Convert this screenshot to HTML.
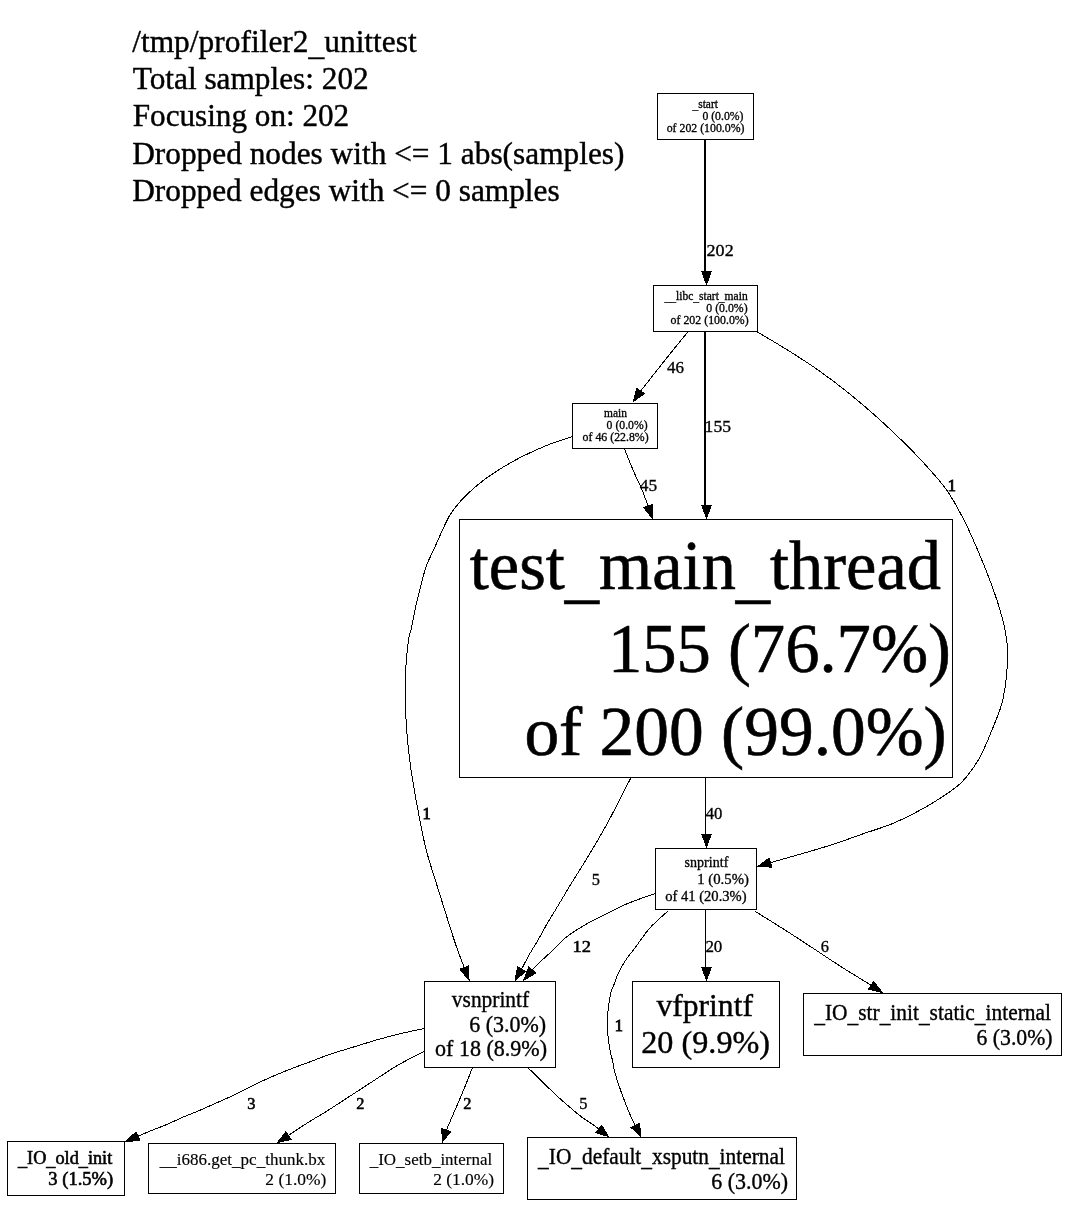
<!DOCTYPE html>
<html lang="en"><head><meta charset="utf-8"><title>/tmp/profiler2_unittest</title>
<style>html,body{margin:0;padding:0;background:#fff;}body{width:1068px;height:1216px;overflow:hidden;}svg{display:block;will-change:transform;}text{font-family:"Liberation Serif",serif;fill:#000;}</style></head><body>
<svg width="1068" height="1216" viewBox="0 0 1068 1216">
<rect x="0" y="0" width="1068" height="1216" fill="#fff"/>
<g fill="none" stroke="#000" stroke-width="1" shape-rendering="crispEdges">
<rect x="657.5" y="93.5" width="96.0" height="46.0"/>
<rect x="653.5" y="285.5" width="104.0" height="46.0"/>
<rect x="572.5" y="403.5" width="85.0" height="45.0"/>
<rect x="459.5" y="519.5" width="493.0" height="258.0"/>
<rect x="655.5" y="848.5" width="101.0" height="61.0"/>
<rect x="424.5" y="981.5" width="131.0" height="86.0"/>
<rect x="632.5" y="981.5" width="147.0" height="86.0"/>
<rect x="803.5" y="993.5" width="258.0" height="62.0"/>
<rect x="7.5" y="1141.5" width="117.0" height="54.0"/>
<rect x="148.5" y="1143.5" width="187.0" height="50.0"/>
<rect x="359.5" y="1143.5" width="144.0" height="50.0"/>
<rect x="527.5" y="1137.5" width="269.0" height="62.0"/>
</g>
<g fill="none" stroke="#000" shape-rendering="crispEdges">
<path d="M705.25,139.50 L705.25,272.00" stroke-width="2"/>
<polygon points="701.00,271.00 706.50,286.00 712.00,271.00" fill="#000" stroke="none"/>
<path d="M688.00,331.70 C684.58,335.92 675.45,347.03 667.50,357.00 C659.55,366.97 644.83,385.75 640.30,391.50" stroke-width="1"/>
<polygon points="636.45,387.63 632.75,402.46 645.29,393.72" fill="#000" stroke="none"/>
<path d="M705.25,331.50 L705.25,506.00" stroke-width="2"/>
<polygon points="701.00,505.00 706.50,519.80 712.00,505.00" fill="#000" stroke="none"/>
<path d="M756.90,331.70 C761.78,334.62 776.20,342.95 786.20,349.20 C796.20,355.45 806.65,362.02 816.90,369.20 C827.15,376.38 837.43,384.08 847.70,392.30 C857.97,400.52 868.25,409.27 878.50,418.50 C888.75,427.73 900.48,438.98 909.20,447.70 C917.92,456.42 924.13,463.12 930.80,470.80 C937.47,478.48 943.05,484.32 949.20,493.80 C955.35,503.28 961.53,514.87 967.70,527.70 C973.87,540.53 981.33,558.75 986.20,570.80 C991.07,582.85 993.83,590.47 996.90,600.00 C999.97,609.53 1002.80,618.77 1004.60,628.00 C1006.40,637.23 1007.95,643.65 1007.70,655.40 C1007.45,667.15 1005.67,686.20 1003.10,698.50 C1000.53,710.80 996.15,719.47 992.30,729.20 C988.45,738.93 984.10,749.20 980.00,756.90 C975.90,764.60 971.80,770.27 967.70,775.40 C963.60,780.53 962.58,782.32 955.40,787.70 C948.22,793.08 934.87,801.80 924.60,807.70 C914.33,813.60 904.05,818.75 893.80,823.10 C883.55,827.45 873.35,830.22 863.10,833.80 C852.85,837.38 842.57,841.27 832.30,844.60 C822.03,847.93 811.88,850.77 801.50,853.80 C791.12,856.83 775.25,861.30 770.00,862.80" stroke-width="1"/>
<polygon points="769.41,857.37 756.23,866.93 772.50,867.66" fill="#000" stroke="none"/>
<path d="M624.40,448.80 C625.95,452.60 630.75,464.72 633.70,471.60 C636.65,478.48 639.68,484.28 642.10,490.10 C644.52,495.92 647.18,503.77 648.20,506.50" stroke-width="1"/>
<polygon points="642.80,507.34 652.87,519.75 652.93,503.77" fill="#000" stroke="none"/>
<path d="M571.90,436.70 C568.53,437.83 557.88,441.18 551.70,443.50 C545.52,445.82 540.42,448.07 534.80,450.60 C529.18,453.13 523.62,455.73 518.00,458.70 C512.38,461.67 506.72,464.90 501.10,468.40 C495.48,471.90 489.92,475.43 484.30,479.70 C478.68,483.97 471.90,489.78 467.40,494.00 C462.90,498.22 460.38,501.20 457.30,505.00 C454.22,508.80 451.70,511.88 448.90,516.80 C446.10,521.72 443.17,528.73 440.50,534.50 C437.83,540.27 435.30,546.07 432.90,551.40 C430.50,556.73 428.22,560.33 426.10,566.50 C423.98,572.67 422.02,581.37 420.20,588.40 C418.38,595.43 416.65,602.10 415.20,608.70 C413.75,615.30 412.53,623.23 411.50,628.00 C410.47,632.77 409.85,632.02 409.00,637.30 C408.15,642.58 407.03,651.07 406.40,659.70 C405.77,668.33 405.35,680.75 405.20,689.10 C405.05,697.45 405.15,701.73 405.50,709.80 C405.85,717.87 406.57,728.87 407.30,737.50 C408.03,746.13 408.90,753.83 409.90,761.60 C410.90,769.37 412.02,776.32 413.30,784.10 C414.58,791.88 415.44,797.32 417.60,808.30 C419.76,819.28 422.52,835.55 426.25,850.00 C429.98,864.45 435.21,879.58 440.00,895.00 C444.79,910.42 450.92,930.33 455.00,942.50 C459.08,954.67 462.92,963.75 464.50,968.00" stroke-width="1"/>
<polygon points="459.12,968.92 469.58,981.75 469.19,965.20" fill="#000" stroke="none"/>
<path d="M705.75,777.50 L705.75,834.50" stroke-width="1"/>
<polygon points="701.00,833.50 706.50,848.80 712.00,833.50" fill="#000" stroke="none"/>
<path d="M630.75,778.00 C628.62,782.17 622.29,794.75 618.00,803.00 C613.71,811.25 610.08,818.42 605.00,827.50 C599.92,836.58 592.77,848.75 587.50,857.50 C582.23,866.25 577.25,873.75 573.40,880.00 C569.55,886.25 567.40,890.00 564.40,895.00 C561.40,900.00 558.40,905.02 555.40,910.00 C552.40,914.98 549.13,920.17 546.40,924.90 C543.67,929.63 541.73,933.65 539.00,938.40 C536.27,943.15 532.93,948.22 530.00,953.40 C527.07,958.58 522.83,966.82 521.40,969.50" stroke-width="1"/>
<polygon points="517.24,965.96 514.40,981.69 526.56,971.31" fill="#000" stroke="none"/>
<path d="M655.10,893.80 C652.97,894.50 646.93,896.35 642.30,898.00 C637.67,899.65 632.28,901.58 627.30,903.70 C622.32,905.82 617.38,908.28 612.40,910.70 C607.42,913.12 602.40,915.58 597.40,918.20 C592.40,920.82 587.40,923.40 582.40,926.40 C577.40,929.40 571.15,933.45 567.40,936.20 C563.65,938.95 562.90,940.03 559.90,942.90 C556.90,945.77 552.65,950.28 549.40,953.40 C546.15,956.52 543.30,958.78 540.40,961.60 C537.50,964.42 533.40,968.85 532.00,970.30" stroke-width="1"/>
<polygon points="528.49,966.12 522.69,981.62 536.78,972.94" fill="#000" stroke="none"/>
<path d="M705.75,909.50 L705.75,968.00" stroke-width="1"/>
<polygon points="701.00,967.00 706.50,981.80 712.00,967.00" fill="#000" stroke="none"/>
<path d="M755.00,911.25 C760.00,914.38 775.83,924.17 785.00,930.00 C794.17,935.83 800.83,940.25 810.00,946.25 C819.17,952.25 829.75,959.46 840.00,966.00 C850.25,972.54 866.25,982.25 871.50,985.50" stroke-width="1"/>
<polygon points="867.73,989.45 883.67,993.44 873.60,980.46" fill="#000" stroke="none"/>
<path d="M667.80,911.20 C666.25,912.58 661.72,916.45 658.50,919.50 C655.28,922.55 652.25,925.00 648.50,929.50 C644.75,934.00 639.83,941.33 636.00,946.50 C632.17,951.67 628.43,956.10 625.50,960.50 C622.57,964.90 620.33,968.83 618.40,972.90 C616.47,976.97 615.08,981.88 613.90,984.90 C612.72,987.92 612.17,987.67 611.30,991.00 C610.43,994.33 609.37,1000.02 608.70,1004.90 C608.03,1009.78 607.47,1015.63 607.30,1020.30 C607.13,1024.97 607.23,1027.78 607.70,1032.90 C608.17,1038.02 609.32,1046.48 610.10,1051.00 C610.88,1055.52 611.68,1056.75 612.40,1060.00 C613.12,1063.25 613.42,1066.57 614.40,1070.50 C615.38,1074.43 616.55,1078.37 618.30,1083.60 C620.05,1088.83 622.72,1096.22 624.90,1101.90 C627.08,1107.58 629.62,1113.68 631.40,1117.70 C633.18,1121.72 634.90,1124.62 635.60,1126.00" stroke-width="1"/>
<polygon points="630.36,1127.55 641.56,1137.71 639.93,1122.67" fill="#000" stroke="none"/>
<path d="M424.10,1028.50 C420.08,1029.38 407.97,1031.88 400.00,1033.80 C392.03,1035.72 382.78,1038.18 376.30,1040.00 C369.82,1041.82 366.43,1043.07 361.10,1044.70 C355.77,1046.33 349.92,1048.05 344.30,1049.80 C338.68,1051.55 333.02,1053.23 327.40,1055.20 C321.78,1057.17 316.22,1059.50 310.60,1061.60 C304.98,1063.70 299.32,1065.63 293.70,1067.80 C288.08,1069.97 282.52,1072.22 276.90,1074.60 C271.28,1076.98 267.02,1078.75 260.00,1082.10 C252.98,1085.45 241.80,1091.35 234.80,1094.70 C227.80,1098.05 223.62,1099.68 218.00,1102.20 C212.38,1104.72 206.72,1107.40 201.10,1109.80 C195.48,1112.20 189.92,1114.20 184.30,1116.60 C178.68,1119.00 173.02,1121.82 167.40,1124.20 C161.78,1126.58 155.58,1128.88 150.60,1130.90 C145.62,1132.92 139.68,1135.40 137.50,1136.30" stroke-width="1"/>
<polygon points="136.20,1131.00 124.17,1142.33 140.62,1140.78" fill="#000" stroke="none"/>
<path d="M424.30,1051.50 C422.20,1052.53 416.62,1055.12 411.70,1057.70 C406.78,1060.28 400.42,1063.63 394.80,1067.00 C389.18,1070.37 383.62,1074.25 378.00,1077.90 C372.38,1081.55 366.72,1085.25 361.10,1088.90 C355.48,1092.55 349.92,1096.15 344.30,1099.80 C338.68,1103.45 333.02,1107.28 327.40,1110.80 C321.78,1114.32 316.22,1117.38 310.60,1120.90 C304.98,1124.42 297.47,1129.42 293.70,1131.90 C289.93,1134.38 288.95,1135.15 288.00,1135.80" stroke-width="1"/>
<polygon points="285.92,1130.75 276.23,1143.44 291.76,1139.76" fill="#000" stroke="none"/>
<path d="M472.30,1068.10 C470.88,1071.67 466.43,1083.08 463.80,1089.50 C461.17,1095.92 459.43,1099.77 456.50,1106.60 C453.57,1113.43 447.92,1126.52 446.20,1130.50" stroke-width="1"/>
<polygon points="441.45,1127.81 441.64,1143.76 451.60,1131.30" fill="#000" stroke="none"/>
<path d="M528.10,1067.90 C529.58,1069.32 533.98,1073.45 537.00,1076.40 C540.02,1079.35 542.48,1082.00 546.20,1085.60 C549.92,1089.20 555.37,1094.40 559.30,1098.00 C563.23,1101.60 566.08,1104.03 569.80,1107.20 C573.52,1110.37 578.32,1114.48 581.60,1117.00 C584.88,1119.52 586.57,1120.27 589.50,1122.30 C592.43,1124.33 597.58,1128.05 599.20,1129.20" stroke-width="1"/>
<polygon points="595.07,1132.78 609.63,1137.50 601.76,1124.38" fill="#000" stroke="none"/>
</g>
<g>
<text transform="translate(132.20,52.00) scale(1.0006,1)" font-size="31.4" stroke="#000" stroke-width="0.41" dy="0 0 0 0 0 0 0 0 0 0 0 0 0 0 2.83 -2.83 0 0 0 0 0 0 0">/tmp/profiler2_unittest</text>
<text transform="translate(132.71,88.75) scale(0.9970,1)" font-size="31.4" stroke="#000" stroke-width="0.41">Total samples: 202</text>
<text transform="translate(132.71,126.25) scale(0.9930,1)" font-size="31.4" stroke="#000" stroke-width="0.41">Focusing on: 202</text>
<text transform="translate(132.21,163.75) scale(0.9984,1)" font-size="31.4" stroke="#000" stroke-width="0.41">Dropped nodes with &lt;= 1 abs(samples)</text>
<text transform="translate(132.21,200.50) scale(0.9972,1)" font-size="31.4" stroke="#000" stroke-width="0.41">Dropped edges with &lt;= 0 samples</text>
<text transform="translate(692.48,108.00) scale(0.9933,1)" font-size="11.5" stroke="#000" stroke-width="0.31" dy="1.03 -1.03 0 0 0 0">_start</text>
<text transform="translate(702.41,120.00) scale(1.0213,1)" font-size="11.5" stroke="#000" stroke-width="0.31">0 (0.0%)</text>
<text transform="translate(666.71,132.00) scale(1.0278,1)" font-size="11.5" stroke="#000" stroke-width="0.31">of 202 (100.0%)</text>
<text transform="translate(664.48,300.00) scale(1.0007,1)" font-size="11.5" stroke="#000" stroke-width="0.31" dy="1.03 0 -1.03 0 0 0 1.03 -1.03 0 0 0 0 1.03 -1.03 0 0 0">__libc_start_main</text>
<text transform="translate(706.31,312.00) scale(1.0264,1)" font-size="11.5" stroke="#000" stroke-width="0.31">0 (0.0%)</text>
<text transform="translate(670.61,324.00) scale(1.0318,1)" font-size="11.5" stroke="#000" stroke-width="0.31">of 202 (100.0%)</text>
<text transform="translate(604.07,417.00) scale(0.9961,1)" font-size="11.5" stroke="#000" stroke-width="0.31">main</text>
<text transform="translate(606.61,429.00) scale(1.0188,1)" font-size="11.5" stroke="#000" stroke-width="0.31">0 (0.0%)</text>
<text transform="translate(582.61,441.00) scale(1.0297,1)" font-size="11.5" stroke="#000" stroke-width="0.31">of 46 (22.8%)</text>
<text transform="translate(469.79,588.75) scale(0.9905,1)" font-size="69.07" stroke="#000" stroke-width="0.60" dy="0 0 0 0 6.22 -6.22 0 0 0 6.22 -6.22 0 0 0 0 0">test_main_thread</text>
<text transform="translate(607.94,672.00) scale(0.9934,1)" font-size="69.07" stroke="#000" stroke-width="0.60">155 (76.7%)</text>
<text transform="translate(524.38,755.00) scale(1.0053,1)" font-size="69.07" stroke="#000" stroke-width="0.60">of 200 (99.0%)</text>
<text transform="translate(684.58,866.60) scale(0.9159,1)" font-size="15.36" stroke="#000" stroke-width="0.33">snprintf</text>
<text transform="translate(697.19,883.90) scale(0.9627,1)" font-size="15.36" stroke="#000" stroke-width="0.33">1 (0.5%)</text>
<text transform="translate(665.22,900.60) scale(0.9495,1)" font-size="15.36" stroke="#000" stroke-width="0.33">of 41 (20.3%)</text>
<text transform="translate(451.87,1006.70) scale(0.9646,1)" font-size="22.2" stroke="#000" stroke-width="0.36">vsnprintf</text>
<text transform="translate(469.29,1031.50) scale(0.9903,1)" font-size="22.2" stroke="#000" stroke-width="0.36">6 (3.0%)</text>
<text transform="translate(435.09,1056.30) scale(0.9930,1)" font-size="22.2" stroke="#000" stroke-width="0.36">of 18 (8.9%)</text>
<text transform="translate(656.50,1015.50) scale(0.9992,1)" font-size="31.6" stroke="#000" stroke-width="0.41">vfprintf</text>
<text transform="translate(641.20,1052.60) scale(1.0205,1)" font-size="31.6" stroke="#000" stroke-width="0.41">20 (9.9%)</text>
<text transform="translate(814.21,1019.60) scale(0.9645,1)" font-size="22.2" stroke="#000" stroke-width="0.36" dy="2.00 -2.00 0 2.00 -2.00 0 0 2.00 -2.00 0 0 0 2.00 -2.00 0 0 0 0 0 2.00 -2.00 0 0 0 0 0 0 0">_IO_str_init_static_internal</text>
<text transform="translate(976.50,1044.90) scale(0.9798,1)" font-size="22.2" stroke="#000" stroke-width="0.36">6 (3.0%)</text>
<text transform="translate(17.99,1164.30) scale(1.0134,1)" font-size="18.0" stroke="#000" stroke-width="0.60" dy="1.62 -1.62 0 1.62 -1.62 0 0 1.62 -1.62 0 0 0">_IO_old_init</text>
<text transform="translate(48.34,1185.00) scale(1.0308,1)" font-size="18.0" stroke="#000" stroke-width="0.60">3 (1.5%)</text>
<text transform="translate(159.64,1165.00) scale(1.0267,1)" font-size="16.6" stroke="#000" stroke-width="0.15" dy="1.49 0 -1.49 0 0 0 0 0 0 0 1.49 -1.49 0 1.49 -1.49 0 0 0 0 0 0 0">__i686.get_pc_thunk.bx</text>
<text transform="translate(265.33,1185.00) scale(1.0505,1)" font-size="16.6" stroke="#000" stroke-width="0.15">2 (1.0%)</text>
<text transform="translate(369.74,1165.00) scale(1.0211,1)" font-size="16.6" stroke="#000" stroke-width="0.15" dy="1.49 -1.49 0 1.49 -1.49 0 0 0 1.49 -1.49 0 0 0 0 0 0 0">_IO_setb_internal</text>
<text transform="translate(433.13,1185.00) scale(1.0505,1)" font-size="16.6" stroke="#000" stroke-width="0.15">2 (1.0%)</text>
<text transform="translate(538.11,1163.80) scale(0.9618,1)" font-size="22.2" stroke="#000" stroke-width="0.36" dy="2.00 -2.00 0 2.00 -2.00 0 0 0 0 0 0 2.00 -2.00 0 0 0 0 0 2.00 -2.00 0 0 0 0 0 0 0">_IO_default_xsputn_internal</text>
<text transform="translate(711.19,1188.80) scale(0.9890,1)" font-size="22.2" stroke="#000" stroke-width="0.36">6 (3.0%)</text>
<text transform="translate(706.61,256.00) scale(1.0671,1)" font-size="16.9" stroke="#000" stroke-width="0.33">202</text>
<text transform="translate(667.00,373.00) scale(1.0056,1)" font-size="16.9" stroke="#000" stroke-width="0.33">46</text>
<text transform="translate(704.60,432.00) scale(1.0404,1)" font-size="16.9" stroke="#000" stroke-width="0.33">155</text>
<text transform="translate(639.80,491.00) scale(1.0278,1)" font-size="16.9" stroke="#000" stroke-width="0.33">45</text>
<text transform="translate(947.65,491.00) scale(0.9700,1)" font-size="16.9" stroke="#000" stroke-width="0.90">1</text>
<text transform="translate(422.52,819.00) scale(0.9700,1)" font-size="16.9" stroke="#000" stroke-width="0.90">1</text>
<text transform="translate(705.65,819.00) scale(0.9883,1)" font-size="16.9" stroke="#000" stroke-width="0.33">40</text>
<text transform="translate(591.77,885.00) scale(0.9700,1)" font-size="16.9" stroke="#000" stroke-width="0.33">5</text>
<text transform="translate(572.61,952.00) scale(1.0921,1)" font-size="16.9" stroke="#000" stroke-width="0.55">12</text>
<text transform="translate(705.39,952.00) scale(1.0044,1)" font-size="16.9" stroke="#000" stroke-width="0.33">20</text>
<text transform="translate(820.82,952.00) scale(0.9700,1)" font-size="16.9" stroke="#000" stroke-width="0.33">6</text>
<text transform="translate(614.65,1031.00) scale(0.9700,1)" font-size="16.9" stroke="#000" stroke-width="0.90">1</text>
<text transform="translate(247.32,1109.00) scale(0.9700,1)" font-size="16.9" stroke="#000" stroke-width="0.55">3</text>
<text transform="translate(356.28,1109.00) scale(0.9700,1)" font-size="16.9" stroke="#000" stroke-width="0.55">2</text>
<text transform="translate(463.23,1109.00) scale(0.9700,1)" font-size="16.9" stroke="#000" stroke-width="0.55">2</text>
<text transform="translate(579.22,1109.00) scale(0.9700,1)" font-size="16.9" stroke="#000" stroke-width="0.33">5</text>
</g>
</svg></body></html>
